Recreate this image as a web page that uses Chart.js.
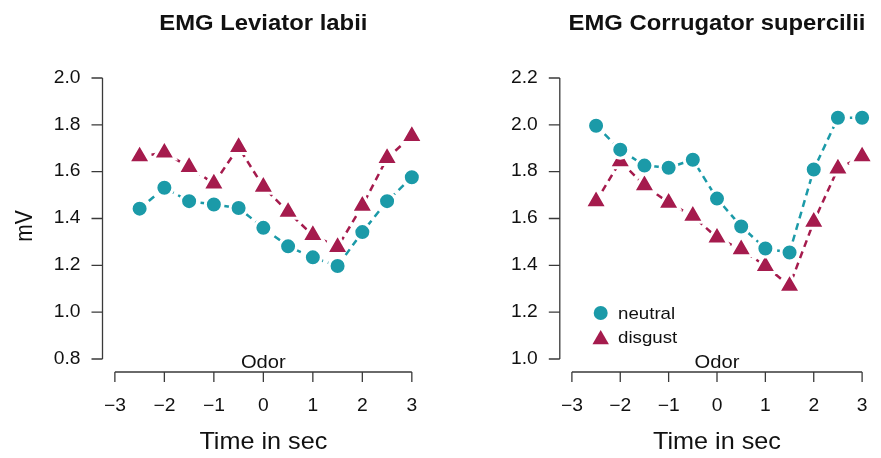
<!DOCTYPE html>
<html>
<head>
<meta charset="utf-8">
<script src="https://cdn.jsdelivr.net/npm/chart.js@4.4.0/dist/chart.umd.min.js"></script>
<style>
  html, body { margin: 0; padding: 0; background: #fff; overflow: hidden; }
  #wrap { position: relative; width: 881px; height: 458px; overflow: hidden; }
  canvas { position: absolute; top: 0; }
</style>
</head>
<body>
<div id="wrap">
  <canvas id="left" width="440" height="458" style="left:0"></canvas>
  <canvas id="right" width="450" height="458" style="left:440px"></canvas>
</div>
<script>
// time relative to odor onset (sec)
const timePoints = [-2.5, -2, -1.5, -1, -0.5, 0, 0.5, 1, 1.5, 2, 2.5, 3];

// EMG Leviator labii (mV)
const levNeutral = [1.442, 1.531, 1.474, 1.460, 1.445, 1.360, 1.281, 1.234, 1.197, 1.342, 1.474, 1.576];
const levDisgust = [1.665, 1.681, 1.620, 1.549, 1.705, 1.535, 1.428, 1.329, 1.278, 1.454, 1.658, 1.752];

// EMG Corrugator supercilii (mV)
const corNeutral = [1.996, 1.894, 1.826, 1.817, 1.851, 1.685, 1.566, 1.472, 1.455, 1.809, 2.030, 2.030];
const corDisgust = [1.673, 1.844, 1.742, 1.667, 1.611, 1.518, 1.468, 1.397, 1.312, 1.586, 1.813, 1.865];

// tick labels
const xTicks = [-3, -2, -1, 0, 1, 2, 3];
const levYTicks = [0.8, 1.0, 1.2, 1.4, 1.6, 1.8, 2.0];
const corYTicks = [1.0, 1.2, 1.4, 1.6, 1.8, 2.0, 2.2];

const TEAL = '#1b9aa8';
const MAROON = '#a51b4d';
const AXIS = '#3a3a3a';
const FONT = '"Liberation Sans", Arial, Helvetica, sans-serif';

// text stretched a bit horizontally, like the reference
function txt(ctx, s, x, y, font, align, baseline, sx, rot) {
    ctx.save();
    ctx.translate(x, y);
    if (rot) {
        ctx.rotate(rot);
        ctx.scale(1, sx);
    } else {
        ctx.scale(sx, 1);
    }
    ctx.font = font;
    ctx.fillStyle = '#111';
    ctx.textAlign = align;
    ctx.textBaseline = baseline;
    ctx.fillText(s, 0, 0);
    ctx.restore();
}

// R-style detached axes, title, Odor mark and optional legend
const rAxes = {
    id: 'rAxes',
    afterDraw(chart, args, opts) {
        const ctx = chart.ctx;
        const xs = chart.scales.x, ys = chart.scales.y;
        const area = chart.chartArea;
        ctx.save();
        ctx.strokeStyle = AXIS;
        ctx.lineWidth = 1.3;

        // y axis
        const yl = area.left;
        const y0 = ys.getPixelForValue(opts.yTicks[0]);
        const y1 = ys.getPixelForValue(opts.yTicks[opts.yTicks.length - 1]);
        ctx.beginPath();
        ctx.moveTo(yl, y0); ctx.lineTo(yl, y1);
        opts.yTicks.forEach(v => {
            const p = ys.getPixelForValue(v);
            ctx.moveTo(yl, p); ctx.lineTo(yl - 11, p);
        });
        ctx.stroke();
        opts.yTicks.forEach(v => {
            txt(ctx, v.toFixed(1), yl - 22, ys.getPixelForValue(v), '17.5px ' + FONT, 'right', 'middle', 1.1);
        });

        // x axis
        const xb = area.bottom;
        const x0 = xs.getPixelForValue(xTicks[0]);
        const x1 = xs.getPixelForValue(xTicks[xTicks.length - 1]);
        ctx.beginPath();
        ctx.moveTo(x0, xb); ctx.lineTo(x1, xb);
        xTicks.forEach(v => {
            const p = xs.getPixelForValue(v);
            ctx.moveTo(p, xb); ctx.lineTo(p, xb + 10);
        });
        ctx.stroke();
        xTicks.forEach(v => {
            const s = v < 0 ? '\u2212' + Math.abs(v) : String(v);
            txt(ctx, s, xs.getPixelForValue(v), xb + 34, '17.5px ' + FONT, 'center', 'middle', 1.1);
        });

        const cx = (area.left + area.right) / 2;
        txt(ctx, 'Time in sec', cx, 442, '24px ' + FONT, 'center', 'middle', 1.05);
        txt(ctx, opts.title, cx, 24, 'bold 22.5px ' + FONT, 'center', 'middle', 1.06);
        txt(ctx, 'Odor', xs.getPixelForValue(0), 368, '18px ' + FONT, 'center', 'alphabetic', 1.12);
        if (opts.ylab) {
            txt(ctx, opts.ylab, 26, 226, '21px ' + FONT, 'center', 'middle', 1.12, -Math.PI / 2);
        }

        if (opts.legend) {
            const lx = 160.7;
            ctx.fillStyle = TEAL;
            ctx.beginPath();
            ctx.arc(lx, 313, 7, 0, Math.PI * 2);
            ctx.fill();
            const r = 9.5, ty = 339.5;
            ctx.fillStyle = MAROON;
            ctx.beginPath();
            ctx.moveTo(lx, ty - r);
            ctx.lineTo(lx + r * 0.866, ty + r / 2);
            ctx.lineTo(lx - r * 0.866, ty + r / 2);
            ctx.closePath();
            ctx.fill();
            txt(ctx, 'neutral', 178, 314, '17px ' + FONT, 'left', 'middle', 1.1);
            txt(ctx, 'disgust', 178, 338, '17px ' + FONT, 'left', 'middle', 1.1);
        }
        ctx.restore();
    }
};

function series(vals) {
    return timePoints.map((t, i) => ({ x: t, y: vals[i] }));
}

function makePanel(id, neutral, disgust, yMin, yMax, padLeft, padRight, opts) {
    const ctx = document.getElementById(id).getContext('2d');
    return new Chart(ctx, {
        type: 'line',
        data: {
            datasets: [{
                label: 'neutral',
                data: series(neutral),
                borderColor: TEAL,
                backgroundColor: TEAL,
                borderWidth: 2.5,
                borderDash: [7, 5],
                pointStyle: 'circle',
                pointRadius: 8.5,
                pointBorderWidth: 3,
                pointBorderColor: '#fff',
                pointBackgroundColor: TEAL,
                tension: 0
            }, {
                label: 'disgust',
                data: series(disgust),
                borderColor: MAROON,
                backgroundColor: MAROON,
                borderWidth: 2.5,
                borderDash: [7, 5],
                pointStyle: 'triangle',
                pointRadius: 12.8,
                pointBorderWidth: 3,
                pointBorderColor: '#fff',
                pointBackgroundColor: MAROON,
                tension: 0
            }]
        },
        options: {
            responsive: false,
            animation: false,
            devicePixelRatio: 1,
            layout: { padding: { left: padLeft, right: padRight, top: 65, bottom: 86 } },
            scales: {
                x: { type: 'linear', min: -3.25, max: 3.25, display: false },
                y: { type: 'linear', min: yMin, max: yMax, display: false }
            },
            plugins: {
                legend: { display: false },
                tooltip: { enabled: false },
                rAxes: opts
            }
        },
        plugins: [rAxes]
    });
}

makePanel('left', levNeutral, levDisgust, 0.7445, 2.0555, 102.5, 14.5,
    { yTicks: levYTicks, title: 'EMG Leviator labii', ylab: 'mV', legend: false });
makePanel('right', corNeutral, corDisgust, 0.9445, 2.2555, 119.8, 7.2,
    { yTicks: corYTicks, title: 'EMG Corrugator supercilii', ylab: null, legend: true });
</script>
</body>
</html>
